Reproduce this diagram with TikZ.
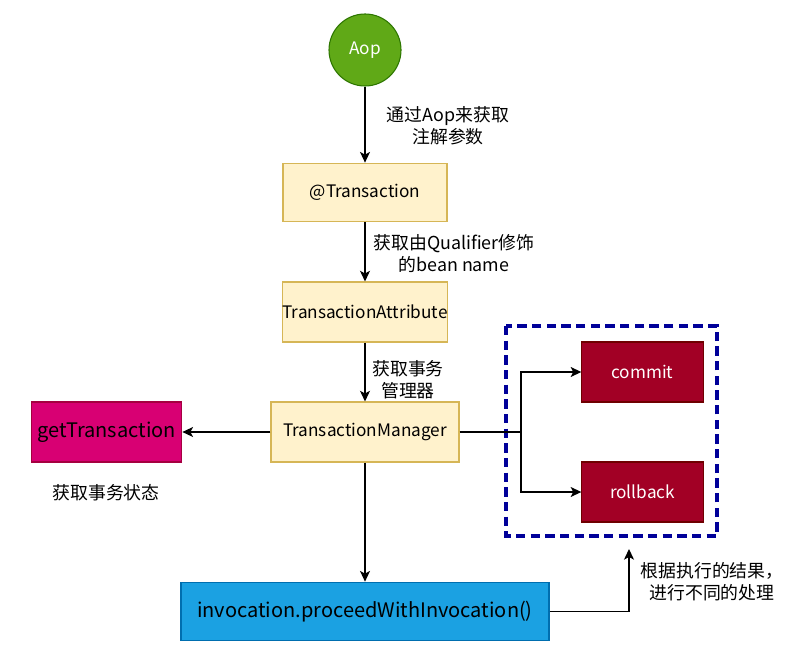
\documentclass[tikz,border=0pt]{standalone}
\usepackage{fontspec}
\setmainfont{Noto Sans CJK SC}
\usetikzlibrary{arrows.meta,positioning,calc}
\definecolor{AopFill}{HTML}{60A917}
\definecolor{AopLine}{HTML}{2D7600}
\definecolor{NoteFill}{HTML}{FFF2CC}
\definecolor{NoteLine}{HTML}{D6B656}
\definecolor{TxFill}{HTML}{D80073}
\definecolor{TxLine}{HTML}{A50040}
\definecolor{EndFill}{HTML}{A20025}
\definecolor{EndLine}{HTML}{6F0000}
\definecolor{InvFill}{HTML}{1BA1E2}
\definecolor{InvLine}{HTML}{006EAF}
\definecolor{GroupLine}{HTML}{000099}

\tikzset{
  stepnote/.style={rectangle,fill=NoteFill,draw=NoteLine,line width=0.8pt,inner sep=0pt,
    font=\fontsize{12.9pt}{15pt}\selectfont},
  endbox/.style={rectangle,fill=EndFill,draw=EndLine,line width=0.8pt,inner sep=0pt,
    minimum width=91pt,minimum height=45pt,text=white,font=\fontsize{12.9pt}{15pt}\selectfont},
  remark/.style={align=center,inner sep=0pt,font=\fontsize{13.4pt}{16.5pt}\selectfont},
  flow/.style={->,line width=0.9pt,black},
}

\begin{document}
\begin{tikzpicture}[x=0.75pt,y=-0.75pt,>={Stealth[length=8pt,width=7.5pt,inset=2pt]}]
\useasboundingbox (0,0) rectangle (809,670);
% main chain
\node[circle,minimum size=54pt,inner sep=0pt,fill=AopFill,draw=AopLine,line width=0.8pt,text=white,font=\fontsize{12.9pt}{15pt}\selectfont] (aop) at (365,50) {Aop};
\node[stepnote,minimum width=123pt,minimum height=44pt] (trans) at (365,192.5) {@Transaction};
\node[stepnote,minimum width=123pt,minimum height=45pt] (attr) at (365,312) {TransactionAttribute};
\node[stepnote,minimum width=141pt,minimum height=45pt] (mgr) at (365,432) {TransactionManager};
\node[rectangle,fill=TxFill,draw=TxLine,line width=0.8pt,inner sep=0pt,minimum width=113pt,minimum height=45pt,font=\fontsize{15pt}{17pt}\selectfont] (gettx) at (106.5,432) {getTransaction};
\node[rectangle,fill=InvFill,draw=InvLine,line width=0.8pt,inner sep=0pt,minimum width=276pt,minimum height=44pt,font=\fontsize{15pt}{17pt}\selectfont] (invoc) at (365,611.5) {invocation.proceedWithInvocation()};
% result group
\draw[GroupLine,line width=2.5pt,dash pattern=on 7pt off 4pt] (506,326) rectangle (717,536);
\node[endbox] (commit) at (642.5,372) {commit};
\node[endbox] (rollback) at (642.5,492) {rollback};
% labels
\node[remark] (lblaop) at (448,126) {通过Aop来获取\\注解参数};
\node[remark] (lblbean) at (454,254) {获取由Qualifier修饰\\的bean name};
\node[remark] (lblmgr) at (408,380) {获取事务\\管理器};
\node[remark] (lblstate) at (106,493) {获取事务状态};
\node[remark] (lblresult) at (712,582) {根据执行的结果，\\进行不同的处理};
% connectors
\coordinate (fork) at (521,432);
\coordinate (back) at (629,549);
\draw[flow] (aop) -- (trans);
\draw[flow] (trans) -- (attr);
\draw[flow] (attr) -- (mgr);
\draw[flow] (mgr) -- (gettx);
\draw[flow] (mgr) -- (invoc);
\draw[flow] (mgr.east) -- (fork) |- (commit.west);
\draw[flow] (fork) |- (rollback.west);
\draw[flow] (invoc.east) -| (back);
\end{tikzpicture}
\end{document}
